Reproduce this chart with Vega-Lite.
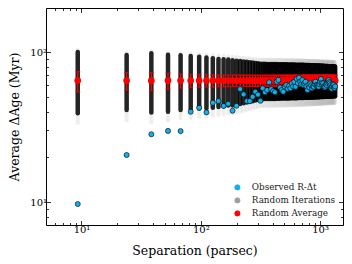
{
  "$schema": "https://vega.github.io/schema/vega-lite/v6.json",
  "width": 297,
  "height": 217,
  "autosize": {"type": "none"},
  "padding": {"left": 46, "top": 8, "right": 9, "bottom": 39},
  "background": "white",
  "config": {
    "view": {"stroke": "black", "strokeWidth": 1},
    "axis": {"labelFont": "DejaVu Serif", "titleFont": "DejaVu Serif", "labelFontSize": 10, "titleFontSize": 12.5, "titleFontWeight": "normal", "tickColor": "black", "tickWidth": 0.8, "domain": false, "grid": false, "labelColor": "black", "titleColor": "black", "labelOverlap": false, "labelFlush": false},
    "legend": {"labelFont": "DejaVu Serif", "labelFontSize": 8.8, "labelColor": "#222", "symbolOpacity": 1}
  },
  "datasets": {
    "cols": [
      {"s":9.3,"lo":39,"hi":100,"flo":33.6,"fhi":104,"avg":64.5,"elo":54.3,"ehi":74,"obs":9.7},
      {"s":23.9,"lo":41,"hi":95.5,"flo":35,"fhi":99,"avg":64.6,"elo":55.8,"ehi":73.1,"obs":20.6},
      {"s":38.5,"lo":39.5,"hi":98,"flo":34,"fhi":101,"avg":64.4,"elo":55.3,"ehi":72.9,"obs":28.3},
      {"s":53.1,"lo":40,"hi":96,"flo":35,"fhi":99,"avg":64.5,"elo":56.3,"ehi":72,"obs":29.8},
      {"s":67.7,"lo":41,"hi":95,"flo":36,"fhi":98,"avg":64.5,"elo":57.5,"ehi":71.5,"obs":29.7},
      {"s":82.3,"lo":41.5,"hi":94,"flo":36.5,"fhi":97.5,"avg":64.5,"elo":58,"ehi":71,"obs":40.0},
      {"s":96.9,"lo":42,"hi":93,"flo":37,"fhi":97,"avg":64.5,"elo":58.3,"ehi":70.8,"obs":42.5},
      {"s":111.5,"lo":42,"hi":92,"flo":37,"fhi":96,"avg":64.5,"elo":58.5,"ehi":70.6,"obs":39.6},
      {"s":126.1,"lo":42.5,"hi":91,"flo":37.5,"fhi":95,"avg":64.5,"elo":58.5,"ehi":70.5,"obs":45.9},
      {"s":140.7,"lo":43,"hi":90,"flo":38,"fhi":94.5,"avg":64.5,"elo":58.6,"ehi":70.4,"obs":47.1},
      {"s":155.3,"lo":43.5,"hi":89.5,"flo":38.5,"fhi":94,"avg":64.5,"elo":58.7,"ehi":70.4,"obs":43.7},
      {"s":169.9,"lo":44,"hi":89,"flo":39,"fhi":93.5,"avg":64.5,"elo":58.7,"ehi":70.3,"obs":45.2},
      {"s":184.5,"lo":44,"hi":88,"flo":39,"fhi":93,"avg":64.5,"elo":58.8,"ehi":70.3,"obs":40.6},
      {"s":199.1,"lo":44.5,"hi":87.5,"flo":39.5,"fhi":92.5,"avg":64.5,"elo":58.8,"ehi":70.3,"obs":43.8},
      {"s":213.7,"lo":45,"hi":87,"flo":40,"fhi":92,"avg":64.5,"elo":58.8,"ehi":70.2,"obs":56.6},
      {"s":228.3,"lo":45.5,"hi":86.5,"flo":40.5,"fhi":91.5,"avg":64.5,"elo":58.9,"ehi":70.2,"obs":52.2},
      {"s":242.9,"lo":46,"hi":86,"flo":41,"fhi":91,"avg":64.5,"elo":58.9,"ehi":70.2,"obs":47.1},
      {"s":257.5,"lo":46.5,"hi":85.5,"flo":41.5,"fhi":90.5,"avg":64.5,"elo":58.9,"ehi":70.1,"obs":47.1},
      {"s":272.1,"lo":47,"hi":85,"flo":42,"fhi":90,"avg":64.5,"elo":59,"ehi":70.1,"obs":50.3},
      {"s":286.7,"lo":47.5,"hi":84.5,"flo":42.5,"fhi":89.5,"avg":64.5,"elo":59,"ehi":70.1,"obs":54.3},
      {"s":301.3,"lo":48,"hi":84,"flo":43,"fhi":89,"avg":64.5,"elo":59,"ehi":70,"obs":52},
      {"s":315.9,"lo":48.5,"hi":83.5,"flo":43.5,"fhi":89,"avg":64.5,"elo":59.1,"ehi":70,"obs":47.3},
      {"s":330.5,"lo":48.5,"hi":83.4,"flo":43.5,"fhi":89,"avg":64.5,"elo":59.1,"ehi":70,"obs":57.3},
      {"s":345.1,"lo":48.6,"hi":83.4,"flo":43.6,"fhi":89,"avg":64.5,"elo":59.1,"ehi":70,"obs":54},
      {"s":359.7,"lo":48.6,"hi":83.3,"flo":43.6,"fhi":89,"avg":64.5,"elo":59.1,"ehi":70,"obs":55.8},
      {"s":374.3,"lo":48.6,"hi":83.3,"flo":43.6,"fhi":89,"avg":64.5,"elo":59.1,"ehi":70,"obs":62.8},
      {"s":388.9,"lo":48.7,"hi":83.2,"flo":43.7,"fhi":89,"avg":64.5,"elo":59.1,"ehi":70,"obs":56.6},
      {"s":403.5,"lo":48.7,"hi":83.2,"flo":43.7,"fhi":88.9,"avg":64.5,"elo":59.1,"ehi":70,"obs":55},
      {"s":418.1,"lo":48.7,"hi":83.1,"flo":43.7,"fhi":88.9,"avg":64.5,"elo":59.1,"ehi":70,"obs":54},
      {"s":432.7,"lo":48.8,"hi":83.1,"flo":43.8,"fhi":88.8,"avg":64.5,"elo":59.1,"ehi":70,"obs":63.4},
      {"s":447.3,"lo":48.8,"hi":83.0,"flo":43.8,"fhi":88.8,"avg":64.5,"elo":59.1,"ehi":70,"obs":65.1},
      {"s":461.9,"lo":48.8,"hi":83.0,"flo":43.8,"fhi":88.7,"avg":64.5,"elo":59.1,"ehi":70,"obs":58},
      {"s":476.5,"lo":48.9,"hi":82.9,"flo":43.9,"fhi":88.7,"avg":64.5,"elo":59.1,"ehi":70,"obs":55.8},
      {"s":491.1,"lo":48.9,"hi":82.9,"flo":43.9,"fhi":88.6,"avg":64.5,"elo":59.1,"ehi":70,"obs":54.4},
      {"s":505.7,"lo":48.9,"hi":82.8,"flo":43.9,"fhi":88.6,"avg":64.5,"elo":59.1,"ehi":70,"obs":58.7},
      {"s":520.3,"lo":49.0,"hi":82.8,"flo":44,"fhi":88.5,"avg":64.5,"elo":59.1,"ehi":70,"obs":60.3},
      {"s":534.9,"lo":49.0,"hi":82.7,"flo":44,"fhi":88.5,"avg":64.5,"elo":59.1,"ehi":70,"obs":57},
      {"s":549.5,"lo":49.0,"hi":82.7,"flo":44,"fhi":88.4,"avg":64.5,"elo":59.1,"ehi":70,"obs":59.5},
      {"s":564.1,"lo":49.1,"hi":82.6,"flo":44.1,"fhi":88.4,"avg":64.5,"elo":59.1,"ehi":70,"obs":57.3},
      {"s":578.7,"lo":49.1,"hi":82.6,"flo":44.1,"fhi":88.3,"avg":64.5,"elo":59.1,"ehi":70,"obs":61.8},
      {"s":593.3,"lo":49.1,"hi":82.5,"flo":44.1,"fhi":88.3,"avg":64.5,"elo":59.1,"ehi":70,"obs":59},
      {"s":607.9,"lo":49.2,"hi":82.5,"flo":44.2,"fhi":88.2,"avg":64.5,"elo":59.1,"ehi":70,"obs":63.4},
      {"s":622.5,"lo":49.2,"hi":82.4,"flo":44.2,"fhi":88.2,"avg":64.5,"elo":59.1,"ehi":70,"obs":58.7},
      {"s":637.1,"lo":49.2,"hi":82.4,"flo":44.2,"fhi":88.1,"avg":64.5,"elo":59.1,"ehi":70,"obs":66.1},
      {"s":651.7,"lo":49.3,"hi":82.3,"flo":44.3,"fhi":88.1,"avg":64.5,"elo":59.1,"ehi":70,"obs":62},
      {"s":666.3,"lo":49.3,"hi":82.3,"flo":44.3,"fhi":88,"avg":64.5,"elo":59.1,"ehi":70,"obs":67.4},
      {"s":680.9,"lo":49.3,"hi":82.2,"flo":44.3,"fhi":88,"avg":64.5,"elo":59.1,"ehi":70,"obs":63.4},
      {"s":695.5,"lo":49.4,"hi":82.2,"flo":44.4,"fhi":87.9,"avg":64.5,"elo":59.1,"ehi":70,"obs":61},
      {"s":710.1,"lo":49.4,"hi":82.1,"flo":44.4,"fhi":87.9,"avg":64.5,"elo":59.1,"ehi":70,"obs":65.1},
      {"s":724.7,"lo":49.4,"hi":82.1,"flo":44.4,"fhi":87.8,"avg":64.5,"elo":59.1,"ehi":70,"obs":60.3},
      {"s":739.3,"lo":49.5,"hi":82.0,"flo":44.5,"fhi":87.8,"avg":64.5,"elo":59.1,"ehi":70,"obs":62},
      {"s":753.9,"lo":49.5,"hi":82.0,"flo":44.5,"fhi":87.7,"avg":64.5,"elo":59.1,"ehi":70,"obs":63.4},
      {"s":768.5,"lo":49.5,"hi":81.9,"flo":44.5,"fhi":87.7,"avg":64.5,"elo":59.1,"ehi":70,"obs":59},
      {"s":783.1,"lo":49.6,"hi":81.9,"flo":44.6,"fhi":87.6,"avg":64.5,"elo":59.1,"ehi":70,"obs":55.8},
      {"s":797.7,"lo":49.6,"hi":81.8,"flo":44.6,"fhi":87.6,"avg":64.5,"elo":59.1,"ehi":70,"obs":60.3},
      {"s":812.3,"lo":49.6,"hi":81.8,"flo":44.6,"fhi":87.5,"avg":64.5,"elo":59.1,"ehi":70,"obs":58},
      {"s":826.9,"lo":49.7,"hi":81.7,"flo":44.7,"fhi":87.5,"avg":64.5,"elo":59.1,"ehi":70,"obs":61.8},
      {"s":841.5,"lo":49.7,"hi":81.7,"flo":44.7,"fhi":87.4,"avg":64.5,"elo":59.1,"ehi":70,"obs":60},
      {"s":856.1,"lo":49.7,"hi":81.6,"flo":44.7,"fhi":87.4,"avg":64.5,"elo":59.1,"ehi":70,"obs":57.3},
      {"s":870.7,"lo":49.8,"hi":81.6,"flo":44.8,"fhi":87.3,"avg":64.5,"elo":59.1,"ehi":70,"obs":59},
      {"s":885.3,"lo":49.8,"hi":81.5,"flo":44.8,"fhi":87.3,"avg":64.5,"elo":59.1,"ehi":70,"obs":58.7},
      {"s":899.9,"lo":49.8,"hi":81.5,"flo":44.8,"fhi":87.2,"avg":64.5,"elo":59.1,"ehi":70,"obs":61},
      {"s":914.5,"lo":49.9,"hi":81.4,"flo":44.9,"fhi":87.2,"avg":64.5,"elo":59.1,"ehi":70,"obs":63.4},
      {"s":929.1,"lo":49.9,"hi":81.4,"flo":44.9,"fhi":87.1,"avg":64.5,"elo":59.1,"ehi":70,"obs":60},
      {"s":943.7,"lo":49.9,"hi":81.3,"flo":44.9,"fhi":87.1,"avg":64.5,"elo":59.1,"ehi":70,"obs":60.3},
      {"s":958.3,"lo":50.0,"hi":81.3,"flo":45,"fhi":87,"avg":64.5,"elo":59.1,"ehi":70,"obs":59.5},
      {"s":972.9,"lo":50.0,"hi":81.2,"flo":45,"fhi":87,"avg":64.5,"elo":59.1,"ehi":70,"obs":58.7},
      {"s":987.5,"lo":50.0,"hi":81.2,"flo":45,"fhi":86.9,"avg":64.5,"elo":59.1,"ehi":70,"obs":61},
      {"s":1002.1,"lo":50.1,"hi":81.1,"flo":45.1,"fhi":86.9,"avg":64.5,"elo":59.1,"ehi":70,"obs":63.4},
      {"s":1016.7,"lo":50.1,"hi":81.1,"flo":45.1,"fhi":86.8,"avg":64.5,"elo":59.1,"ehi":70,"obs":66.1},
      {"s":1031.3,"lo":50.1,"hi":81.0,"flo":45.1,"fhi":86.8,"avg":64.5,"elo":59.1,"ehi":70,"obs":62},
      {"s":1045.9,"lo":50.2,"hi":81.0,"flo":45.2,"fhi":86.7,"avg":64.5,"elo":59.1,"ehi":70,"obs":60},
      {"s":1060.5,"lo":50.2,"hi":80.9,"flo":45.2,"fhi":86.7,"avg":64.5,"elo":59.1,"ehi":70,"obs":61.8},
      {"s":1075.1,"lo":50.2,"hi":80.9,"flo":45.2,"fhi":86.6,"avg":64.5,"elo":59.1,"ehi":70,"obs":59},
      {"s":1089.7,"lo":50.3,"hi":80.8,"flo":45.3,"fhi":86.6,"avg":64.5,"elo":59.1,"ehi":70,"obs":58},
      {"s":1104.3,"lo":50.3,"hi":80.8,"flo":45.3,"fhi":86.5,"avg":64.5,"elo":59.1,"ehi":70,"obs":58.7},
      {"s":1118.9,"lo":50.3,"hi":80.7,"flo":45.3,"fhi":86.5,"avg":64.5,"elo":59.1,"ehi":70,"obs":61},
      {"s":1133.5,"lo":50.4,"hi":80.7,"flo":45.4,"fhi":86.4,"avg":64.5,"elo":59.1,"ehi":70,"obs":60.3},
      {"s":1148.1,"lo":50.4,"hi":80.6,"flo":45.4,"fhi":86.4,"avg":64.5,"elo":59.1,"ehi":70,"obs":62},
      {"s":1162.7,"lo":50.4,"hi":80.6,"flo":45.4,"fhi":86.3,"avg":64.5,"elo":59.1,"ehi":70,"obs":64},
      {"s":1177.3,"lo":50.5,"hi":80.5,"flo":45.5,"fhi":86.3,"avg":64.5,"elo":59.1,"ehi":70,"obs":65},
      {"s":1191.9,"lo":50.5,"hi":80.5,"flo":45.5,"fhi":86.2,"avg":64.5,"elo":59.1,"ehi":70,"obs":63},
      {"s":1206.5,"lo":50.5,"hi":80.4,"flo":45.5,"fhi":86.2,"avg":64.5,"elo":59.1,"ehi":70,"obs":61.8},
      {"s":1221.1,"lo":50.6,"hi":80.4,"flo":45.6,"fhi":86.1,"avg":64.5,"elo":59.1,"ehi":70,"obs":60},
      {"s":1235.7,"lo":50.6,"hi":80.3,"flo":45.6,"fhi":86.1,"avg":64.5,"elo":59.1,"ehi":70,"obs":58},
      {"s":1250.3,"lo":50.6,"hi":80.3,"flo":45.6,"fhi":86,"avg":64.5,"elo":59.1,"ehi":70,"obs":57},
      {"s":1264.9,"lo":50.7,"hi":80.2,"flo":45.7,"fhi":86,"avg":64.5,"elo":59.1,"ehi":70,"obs":59},
      {"s":1279.5,"lo":50.7,"hi":80.2,"flo":45.7,"fhi":85.9,"avg":64.5,"elo":59.1,"ehi":70,"obs":61},
      {"s":1294.1,"lo":50.7,"hi":80.1,"flo":45.7,"fhi":85.9,"avg":64.5,"elo":59.1,"ehi":70,"obs":60.3},
      {"s":1308.7,"lo":50.8,"hi":80.1,"flo":45.8,"fhi":85.8,"avg":64.5,"elo":59.1,"ehi":70,"obs":58},
      {"s":1323.3,"lo":50.8,"hi":80.0,"flo":45.8,"fhi":85.8,"avg":64.5,"elo":59.1,"ehi":70,"obs":57.5},
      {"s":1337.9,"lo":50.8,"hi":80.0,"flo":45.8,"fhi":85.7,"avg":64.5,"elo":59.1,"ehi":70,"obs":59}
    ]
  },
  "data": {"name": "cols"},
  "resolve": {"axis": {"x": "independent", "y": "independent"}},
  "layer": [
    {
      "mark": {"type": "rule", "strokeWidth": 4, "opacity": 0.18, "strokeCap": "round"},
      "encoding": {
        "x": {"field": "s", "type": "quantitative", "scale": {"type": "log", "domain": [5.04, 1556], "nice": false},
          "axis": {"orient": "bottom", "title": "Separation (parsec)", "values": [6,7,8,9,10,20,30,40,50,60,70,80,90,100,200,300,400,500,600,700,800,900,1000],
            "labelExpr": "abs(datum.value-10)<0.01?'10¹':abs(datum.value-100)<0.1?'10²':abs(datum.value-1000)<1?'10³':''",
            "tickSize": {"condition": {"test": "datum.value==10||datum.value==100||datum.value==1000", "value": -4.5}, "value": -2.5},
            "labelPadding": 4, "titlePadding": 8}},
        "y": {"field": "flo", "type": "quantitative", "scale": {"type": "log", "domain": [7.03, 196.5], "nice": false},
          "axis": {"orient": "left", "title": "Average ΔAge (Myr)", "values": [8,9,10,20,30,40,50,60,70,80,90,100],
            "labelExpr": "abs(datum.value-10)<0.01?'10¹':abs(datum.value-100)<0.1?'10²':''",
            "tickSize": {"condition": {"test": "datum.value==10||datum.value==100", "value": -4.5}, "value": -2.5},
            "labelPadding": 4, "titlePadding": 8}},
        "y2": {"field": "fhi"},
        "color": {"datum": "Random Iterations", "scale": {"domain": ["Observed R-Δt", "Random Iterations", "Random Average"], "range": ["#16aee6", "#a0a0a0", "#ff0000"]},
          "legend": {"orient": "none", "legendX": 187, "legendY": 175, "title": null, "padding": 0, "rowPadding": 3, "symbolSize": 28, "labelOffset": 10, "symbolType": "circle", "symbolOpacity": 1,
            "encode": {"symbols": {"update": {"opacity": {"value": 1}, "fillOpacity": {"value": 1}, "stroke": {"signal": "datum.value == 'Observed R-Δt' ? 'black' : 'transparent'"}, "strokeWidth": {"value": 0.7}}}}}}
      }
    },
    {
      "mark": {"type": "rule", "color": "black", "strokeWidth": 4.5, "opacity": 0.85, "strokeCap": "round"},
      "encoding": {
        "x": {"field": "s", "type": "quantitative",
          "axis": {"orient": "top", "title": null, "labels": false, "values": [6,7,8,9,10,20,30,40,50,60,70,80,90,100,200,300,400,500,600,700,800,900,1000],
            "tickSize": {"condition": {"test": "datum.value==10||datum.value==100||datum.value==1000", "value": -4.5}, "value": -2.5}}},
        "y": {"field": "lo", "type": "quantitative",
          "axis": {"orient": "right", "title": null, "labels": false, "values": [8,9,10,20,30,40,50,60,70,80,90,100],
            "tickSize": {"condition": {"test": "datum.value==10||datum.value==100", "value": -4.5}, "value": -2.5}}},
        "y2": {"field": "hi"}
      }
    },
    {
      "mark": {"type": "rule", "color": "#ff0000", "strokeWidth": 1.2},
      "encoding": {
        "x": {"field": "s", "type": "quantitative", "axis": null},
        "y": {"field": "elo", "type": "quantitative", "axis": null},
        "y2": {"field": "ehi"}
      }
    },
    {
      "mark": {"type": "tick", "orient": "horizontal", "color": "#ff0000", "size": 5, "thickness": 1.2},
      "encoding": {
        "x": {"field": "s", "type": "quantitative", "axis": null},
        "y": {"field": "elo", "type": "quantitative", "axis": null}
      }
    },
    {
      "mark": {"type": "tick", "orient": "horizontal", "color": "#ff0000", "size": 5, "thickness": 1.2},
      "encoding": {
        "x": {"field": "s", "type": "quantitative", "axis": null},
        "y": {"field": "ehi", "type": "quantitative", "axis": null}
      }
    },
    {
      "mark": {"type": "point", "shape": "circle", "filled": true, "size": 45, "opacity": 1},
      "encoding": {
        "x": {"field": "s", "type": "quantitative", "axis": null},
        "y": {"field": "avg", "type": "quantitative", "axis": null},
        "color": {"datum": "Random Average"}
      }
    },
    {
      "mark": {"type": "point", "shape": "circle", "filled": true, "size": 26, "opacity": 1, "stroke": "black", "strokeWidth": 0.6},
      "encoding": {
        "x": {"field": "s", "type": "quantitative", "axis": null},
        "y": {"field": "obs", "type": "quantitative", "axis": null},
        "color": {"datum": "Observed R-Δt"}
      }
    }
  ]
}
